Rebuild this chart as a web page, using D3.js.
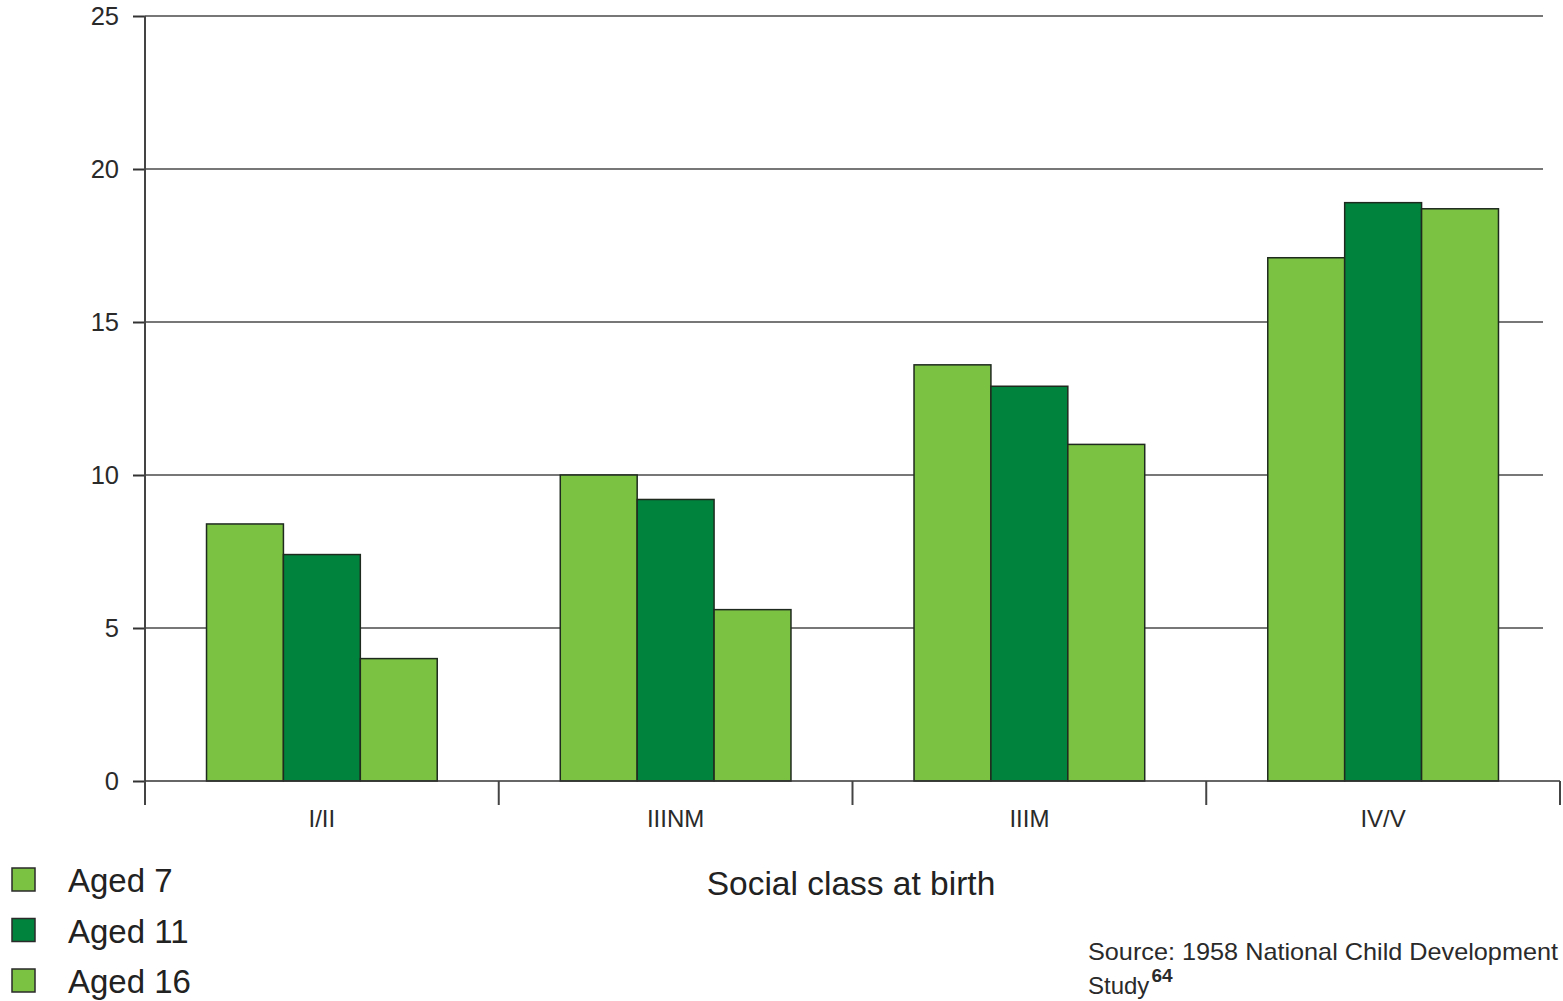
<!DOCTYPE html>
<html>
<head>
<meta charset="utf-8">
<script src="https://cdn.jsdelivr.net/npm/d3@7"></script>
<style>
  html, body { margin: 0; padding: 0; background: #fff; }
  svg { display: block; font-family: "Liberation Sans", Arial, sans-serif; }
</style>
</head>
<body>
<svg id="chart" width="1563" height="1001"></svg>
<script>
// Social class at birth
const categories = ["I/II", "IIINM", "IIIM", "IV/V"];
const seriesNames = ["Aged 7", "Aged 11", "Aged 16"];
const aged7 = [8.4, 10.0, 13.6, 17.1];
const aged11 = [7.4, 9.2, 12.9, 18.9];
const aged16 = [4.0, 5.6, 11.0, 18.7];
const yTicks = [0, 5, 10, 15, 20, 25];

const seriesValues = [aged7, aged11, aged16];
const colors = ["#7bc142", "#00843d", "#7bc142"];

const svg = d3.select("#chart");
const x0 = 145, xEnd = 1560;
const yBottom = 781, yTop = 16;

const x = d3.scaleBand().domain(categories).range([x0, xEnd]).paddingInner(0).paddingOuter(0);
const xs = d3.scaleBand().domain(seriesNames).range([0, x.bandwidth()]).paddingInner(0).paddingOuter(0.8);
const y = d3.scaleLinear().domain([0, 25]).range([yBottom, yTop]);

// horizontal gridlines
svg.append("g")
  .selectAll("line")
  .data(yTicks.filter(d => d > 0))
  .join("line")
  .attr("x1", x0).attr("x2", 1543)
  .attr("y1", d => y(d)).attr("y2", d => y(d))
  .attr("stroke", "#4a4a4a").attr("stroke-width", 1.3);

// bars
const rows = categories.map((c, i) => ({ cat: c, vals: seriesValues.map((s, j) => ({ name: seriesNames[j], v: s[i], j })) }));
svg.append("g")
  .selectAll("g")
  .data(rows)
  .join("g")
  .attr("transform", d => `translate(${x(d.cat)},0)`)
  .selectAll("rect")
  .data(d => d.vals)
  .join("rect")
  .attr("x", d => xs(d.name))
  .attr("width", xs.bandwidth())
  .attr("y", d => y(d.v))
  .attr("height", d => y(0) - y(d.v))
  .attr("fill", d => colors[d.j])
  .attr("stroke", "#1f2a1f").attr("stroke-width", 1.5);

// y axis
const yAxis = d3.axisLeft(y).tickValues(yTicks).tickSize(12).tickPadding(14);
const gy = svg.append("g").attr("transform", `translate(${x0},0)`).call(yAxis);
gy.select(".domain").remove();
gy.selectAll(".tick line").attr("stroke", "#333").attr("stroke-width", 2);
gy.selectAll(".tick text").attr("font-size", 25.5).attr("fill", "#2a2a2a")
  .attr("font-family", "Liberation Sans, Arial, sans-serif");
svg.append("line").attr("x1", x0).attr("x2", x0).attr("y1", yTop).attr("y2", 805)
  .attr("stroke", "#444").attr("stroke-width", 2);

// x axis baseline and category separators
svg.append("line").attr("x1", x0).attr("x2", xEnd).attr("y1", yBottom).attr("y2", yBottom)
  .attr("stroke", "#333").attr("stroke-width", 1.5);
const seps = categories.map(c => x(c)).concat([x(categories[categories.length - 1]) + x.bandwidth()]);
svg.append("g").selectAll("line").data(seps).join("line")
  .attr("x1", d => d).attr("x2", d => d)
  .attr("y1", yBottom).attr("y2", 805)
  .attr("stroke", "#444").attr("stroke-width", 2);
svg.append("g").selectAll("text").data(categories).join("text")
  .attr("x", d => x(d) + x.bandwidth() / 2)
  .attr("y", 827)
  .attr("text-anchor", "middle")
  .attr("font-size", 24).attr("fill", "#2a2a2a")
  .text(d => d);

// axis title
svg.append("text").attr("x", 851).attr("y", 895).attr("text-anchor", "middle")
  .attr("font-size", 33.5).attr("fill", "#222").text("Social class at birth");

// legend
const leg = svg.append("g").selectAll("g").data(seriesNames).join("g")
  .attr("transform", (d, i) => `translate(12,${868 + i * 50.5})`);
leg.append("rect").attr("width", 23).attr("height", 23)
  .attr("fill", (d, i) => colors[i]).attr("stroke", "#2a2a2a").attr("stroke-width", 1.5);
leg.append("text").attr("x", 56).attr("y", 24)
  .attr("font-size", 33).attr("fill", "#222").text(d => d);

// source note
const src = svg.append("g").attr("font-size", 24).attr("fill", "#2a2a2a");
src.append("text").attr("x", 1088).attr("y", 960)
  .attr("textLength", 470).attr("lengthAdjust", "spacingAndGlyphs")
  .text("Source: 1958 National Child Development");
const s2 = src.append("text").attr("x", 1088).attr("y", 994);
s2.append("tspan").text("Study");
s2.append("tspan").attr("dx", 2).attr("dy", -12).attr("font-size", 19).attr("font-weight", "bold").text("64");
</script>
</body>
</html>
